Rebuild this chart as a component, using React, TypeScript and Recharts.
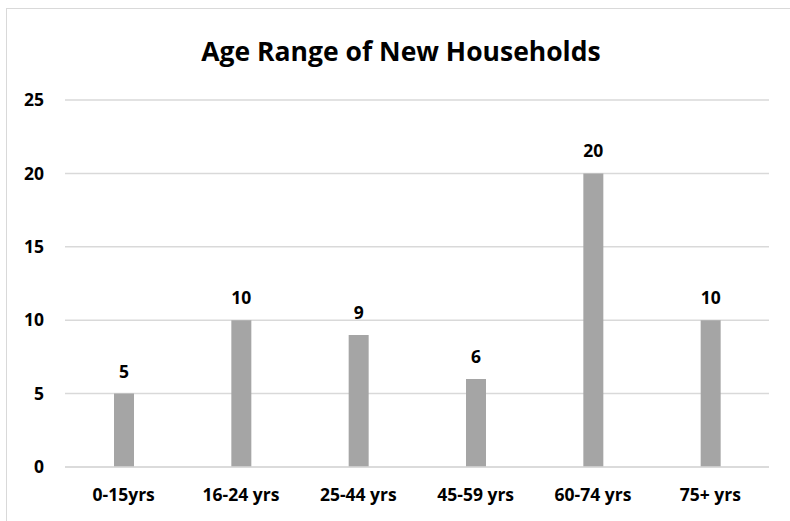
import React from 'react';
import { BarChart, Bar, XAxis, YAxis, CartesianGrid, LabelList } from 'recharts';

const categories = ['0-15yrs', '16-24 yrs', '25-44 yrs', '45-59 yrs', '60-74 yrs', '75+ yrs'];
const households = [5, 10, 9, 6, 20, 10];
const yTicks = [0, 5, 10, 15, 20, 25];

const data = categories.map((c, i) => ({ name: c, value: households[i] }));

const FONT = '"Open Sans", "Liberation Sans", sans-serif';

export default function App() {
  return (
    <div style={{ position: 'absolute', left: 0, top: 0, width: 790, height: 521, background: '#fff', overflow: 'hidden' }}>
      <div style={{ position: 'absolute', left: 6, top: 8, width: 800, height: 600, border: '1px solid #d9d9d9', boxSizing: 'border-box' }} />
      <div style={{ position: 'absolute', left: 0, top: 33, width: 802, textAlign: 'center', fontFamily: FONT, fontWeight: 700, fontSize: 26.5, color: '#000', lineHeight: '36px' }}>
        Age Range of New Households
      </div>
      <div style={{ position: 'absolute', left: 0, top: 0 }}>
        <BarChart width={790} height={521} data={data} margin={{ top: 100, right: 21, bottom: 24, left: 15 }}>
          <CartesianGrid vertical={false} stroke="#d9d9d9" strokeWidth={1.5} />
          <XAxis dataKey="name" axisLine={{ stroke: '#d9d9d9', strokeWidth: 1.5 }} tickLine={false} height={30}
            tick={{ fontFamily: FONT, fontWeight: 700, fontSize: 17.5, fill: '#000' }} tickMargin={16} />
          <YAxis domain={[0, 25]} ticks={yTicks} width={50} axisLine={false} tickLine={false} tickSize={0} tickMargin={21}
            tick={{ fontFamily: FONT, fontWeight: 700, fontSize: 17.5, fill: '#000' }} />
          <Bar dataKey="value" fill="#a5a5a5" barSize={20} isAnimationActive={false}>
            <LabelList dataKey="value" position="top" offset={16}
              style={{ fontFamily: FONT, fontWeight: 700, fontSize: 17.5, fill: '#000' }} />
          </Bar>
        </BarChart>
      </div>
    </div>
  );
}
